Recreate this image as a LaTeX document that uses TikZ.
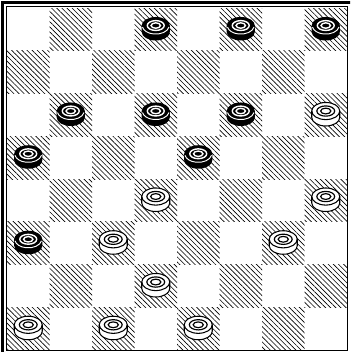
\documentclass[tikz,border=0pt]{standalone}
\usetikzlibrary{patterns.meta}

\begin{document}
\begin{tikzpicture}[x=1.275cm, y=-1.2825cm,
  darksq/.style={pattern={Lines[angle=-45,distance=3.1pt,line width=0.55pt]}},
  piecebody/.style={line width=0.9pt},
  blackman/.pic={
    \fill[black] (-0.33,0) -- (-0.33,0.15)
      arc[start angle=180,end angle=0,x radius=0.33,y radius=0.2] -- (0.33,0)
      arc[start angle=0,end angle=-180,x radius=0.33,y radius=0.2] -- cycle;
    \draw[white, line width=0.8pt] (0.312,0.035)
      arc[start angle=10,end angle=170,x radius=0.317,y radius=0.2];
    \draw[white, line width=1.2pt] (0,0) ellipse[x radius=0.2,y radius=0.115]
      (0,0) ellipse[x radius=0.11,y radius=0.063];
  },
  whiteman/.pic={
    \filldraw[piecebody, fill=white] (-0.33,0) -- (-0.33,0.15)
      arc[start angle=180,end angle=0,x radius=0.33,y radius=0.2] -- (0.33,0)
      arc[start angle=0,end angle=-180,x radius=0.33,y radius=0.2] -- cycle;
    \draw[piecebody] (0.33,0)
      arc[start angle=0,end angle=180,x radius=0.33,y radius=0.2];
    \draw[line width=1pt] (0,0) ellipse[x radius=0.21,y radius=0.12]
      (0,0) ellipse[x radius=0.12,y radius=0.068];
  }
]
  \clip (-0.1647,-0.1871) rectangle (8.0706,8.0468);
  \fill[white] (-0.1647,-0.1871) rectangle (8.0706,8.0468);

  \foreach \c in {0,...,7}
    \foreach \r in {0,...,7} {
      \pgfmathtruncatemacro{\odd}{mod(\c+\r,2)}
      \ifnum\odd=1 \fill[darksq] (\c,\r) rectangle ++(1,1); \fi
    }

  \draw[line width=2.5pt] (-0.1059,-0.1287) rectangle (8.5,8.5);
  \draw[line width=0.7pt] (-0.012,-0.035) rectangle (8,8);

  \foreach \c/\r in {3/0,5/0,7/0,1/2,3/2,5/2,0/3,4/3,0/5}
    \pic at (\c+0.5,\r+0.41) {blackman};
  \foreach \c/\r in {7/2,3/4,7/4,2/5,6/5,3/6,0/7,2/7,4/7}
    \pic at (\c+0.5,\r+0.41) {whiteman};
\end{tikzpicture}
\end{document}
